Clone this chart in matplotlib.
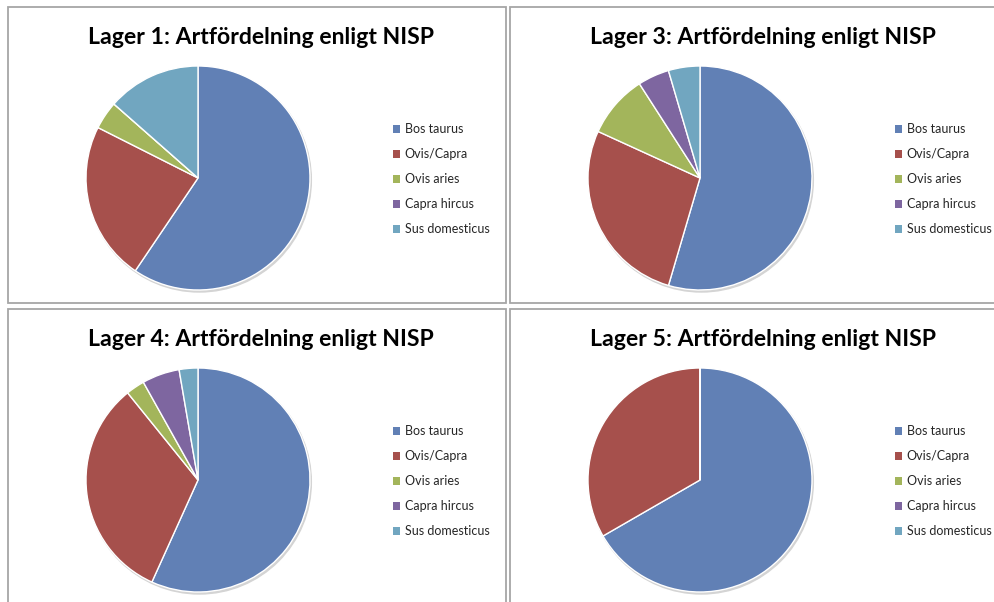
import matplotlib

matplotlib.use("Agg")
import matplotlib.pyplot as plt
from matplotlib.patches import Rectangle, Circle

W, H = 995, 602

species = ["Bos taurus", "Ovis/Capra", "Ovis aries", "Capra hircus", "Sus domesticus"]
colors = ["#6180B5", "#A6504C", "#A3B55B", "#7E66A0", "#71A6C0"]

# NISP counts per layer
lager_1 = [44, 17, 3, 0, 10]
lager_3 = [24, 12, 4, 2, 2]
lager_4 = [21, 12, 1, 2, 1]
lager_5 = [6, 3, 0, 0, 0]

titles = [
    "Lager 1: Artfördelning enligt NISP",
    "Lager 3: Artfördelning enligt NISP",
    "Lager 4: Artfördelning enligt NISP",
    "Lager 5: Artfördelning enligt NISP",
]
panels = [(8, 7), (510, 7), (8, 309), (510, 309)]  # top-left corner of each chart, px

plt.rcParams["font.family"] = ["Lato", "DejaVu Sans"]

fig = plt.figure(figsize=(W / 100, H / 100), dpi=100)
fig.patch.set_facecolor("white")


def fx(px):
    return px / W


def fy(py):
    return 1 - py / H


def draw_panel(x0, y0, title, counts):
    # chart frame
    fig.add_artist(
        Rectangle(
            (fx(x0), fy(y0 + 296)),
            fx(498),
            296 / H,
            transform=fig.transFigure,
            facecolor="white",
            edgecolor="#a6a6a6",
            linewidth=1.3,
            zorder=0,
        )
    )
    fig.text(
        fx(x0 + 253),
        fy(y0 + 37),
        title,
        ha="center",
        va="baseline",
        fontsize=16.6,
        fontweight="bold",
        color="#000000",
    )

    cx, cy, r = x0 + 190, y0 + 171, 112
    ax = fig.add_axes([fx(cx - r - 4), fy(cy + r + 4), fx(2 * r + 8), (2 * r + 8) / H])
    ax.axis("off")
    # soft shadow behind the pie
    ax.add_patch(Circle((0.012, -0.018), 1.0, color="#d4d4d4", zorder=0))
    wedges, _ = ax.pie(
        counts,
        colors=colors,
        startangle=90,
        counterclock=False,
        radius=1.0,
        wedgeprops={"edgecolor": "white", "linewidth": 1.0},
    )
    lim = (r + 4) / r
    ax.set_xlim(-lim, lim)
    ax.set_ylim(-lim, lim)
    ax.set_aspect("equal")

    leg = ax.legend(
        wedges,
        species,
        loc="upper left",
        bbox_to_anchor=(fx(x0 + 385), fy(y0 + 116)),
        bbox_transform=fig.transFigure,
        frameon=False,
        borderpad=0,
        borderaxespad=0,
        handlelength=0.6,
        handleheight=0.6,
        handletextpad=0.35,
        labelspacing=1.04,
        fontsize=9,
    )
    for t in leg.get_texts():
        t.set_color("#262626")
    for h in leg.legend_handles:
        h.set_edgecolor("none")


for (x0, y0), title, counts in zip(panels, titles, [lager_1, lager_3, lager_4, lager_5]):
    draw_panel(x0, y0, title, counts)

fig.savefig("out.png", dpi=100, facecolor="white")
